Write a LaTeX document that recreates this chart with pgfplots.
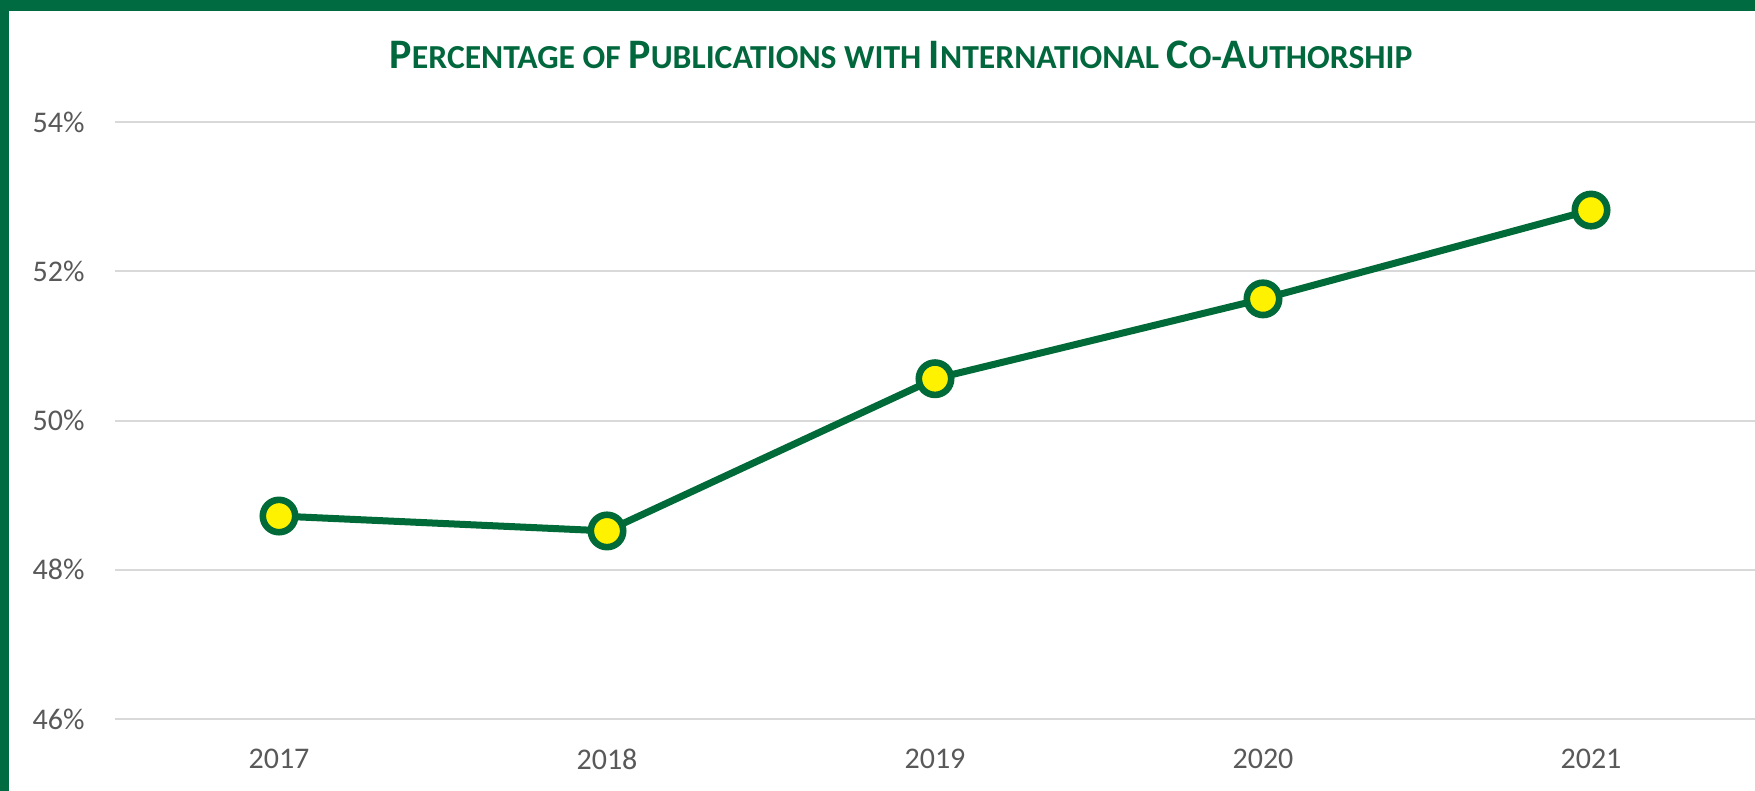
\documentclass[border=0pt]{standalone}
\usepackage{fontspec}
\setmainfont{Carlito}
\usepackage{pgfplots}
\pgfplotsset{compat=1.18}
\definecolor{bordergreen}{RGB}{0,106,64}
\definecolor{titlegreen}{RGB}{0,104,60}
\definecolor{linegreen}{RGB}{0,106,56}
\definecolor{gridgray}{RGB}{217,217,217}
\definecolor{labelgray}{RGB}{89,89,89}
\newcommand\BigC[1]{{\fontsize{21bp}{24bp}\selectfont #1}}
\newcommand\SmC[1]{{\fontsize{16.8bp}{18bp}\selectfont #1}}
\begin{document}
\begin{tikzpicture}
\fill[bordergreen] (0,0) rectangle (877.5bp,395.5bp);
\fill[white] (4.25bp,0) rectangle (877.5bp,390bp);
\begin{axis}[
  at={(57.5bp,36bp)}, anchor=south west,
  scale only axis, width=820bp, height=298.5bp,
  xmin=-0.5, xmax=4.5, ymin=46, ymax=54,
  xtick={0,1,2,3,4}, xticklabels={2017,2018,2019,2020,2021},
  ytick={46,48,50,52,54},
  yticklabel={\pgfmathprintnumber{\tick}\%},
  /pgf/number format/assume math mode=true,
  axis line style={draw=none},
  major tick length=0pt,
  ymajorgrids, grid style={gridgray, line width=1bp},
  tick label style={font=\fontsize{15bp}{17bp}\selectfont, text=labelgray},
  yticklabel style={anchor=east, inner sep=0pt, xshift=-15bp},
  xticklabel style={anchor=north, inner sep=0pt, yshift=-15bp},
  clip=false,
]
\addplot[linegreen, line width=3.5bp, mark=*, mark size=8.1bp,
  mark options={fill=yellow, draw=linegreen, line width=3.3bp}]
  coordinates {(0,48.72) (1,48.52) (2,50.56) (3,51.63) (4,52.82)};
\end{axis}
\node[text=titlegreen, anchor=base, inner sep=0pt, font=\bfseries] at (450.5bp,361bp)
  {\BigC{P}\SmC{ERCENTAGE OF }\BigC{P}\SmC{UBLICATIONS WITH }\BigC{I}\SmC{NTERNATIONAL }\BigC{C}\SmC{O-}\BigC{A}\SmC{UTHORSHIP}};
\pgfresetboundingbox
\useasboundingbox (0,0) rectangle (877.5bp,395.5bp);
\end{tikzpicture}
\end{document}
